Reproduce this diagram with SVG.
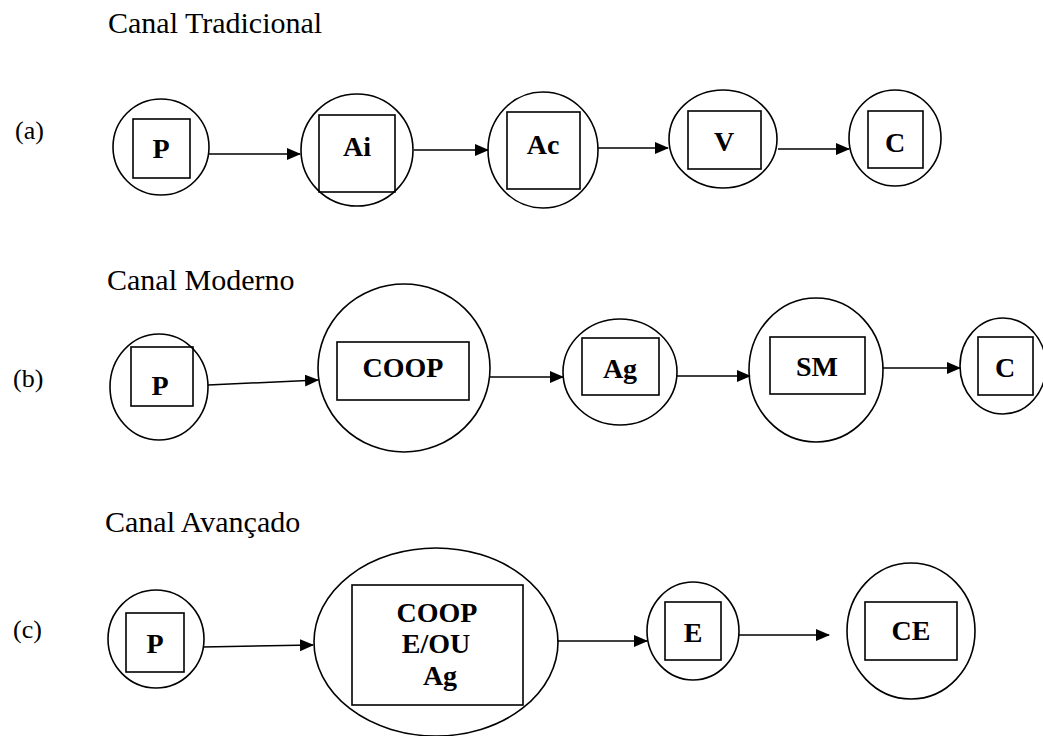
<svg xmlns="http://www.w3.org/2000/svg" width="1043" height="736" viewBox="0 0 1043 736">
<defs>
<marker id="ah" markerWidth="14" markerHeight="12" refX="13" refY="6" orient="auto" markerUnits="userSpaceOnUse"><path d="M0,0 L14,6 L0,12 z" fill="#000"/></marker>
<style>
.n{fill:none;stroke:#000;stroke-width:1.6}
.t{font-family:"Liberation Serif","Times New Roman",serif;font-size:30px;fill:#000}
.l{font-family:"Liberation Serif","Times New Roman",serif;font-size:26px;fill:#000}
.b{font-family:"Liberation Serif","Times New Roman",serif;font-size:28px;font-weight:bold;text-anchor:middle;fill:#000}
.c{fill:none;stroke:#000;stroke-width:1.5;marker-end:url(#ah)}
</style>
</defs>
<rect x="0" y="0" width="1043" height="736" fill="#fff"/>
<g id="titles">
<text class="t" x="108" y="33">Canal Tradicional</text>
<text class="t" x="107" y="290">Canal Moderno</text>
<text class="t" x="105" y="532">Canal Avançado</text>
<text class="l" x="15" y="139">(a)</text>
<text class="l" x="13" y="387">(b)</text>
<text class="l" x="13" y="638">(c)</text>
</g>
<g id="connectors">
<line class="c" x1="208" y1="154" x2="300" y2="154"/>
<line class="c" x1="414" y1="150" x2="488" y2="150"/>
<line class="c" x1="598" y1="148" x2="668" y2="148"/>
<line class="c" x1="778" y1="149" x2="849" y2="149"/>
<line class="c" x1="208" y1="385" x2="318" y2="380"/>
<line class="c" x1="490" y1="377" x2="563" y2="377"/>
<line class="c" x1="677" y1="376" x2="750" y2="376"/>
<line class="c" x1="883" y1="368" x2="960" y2="368"/>
<line class="c" x1="203" y1="647" x2="313" y2="645"/>
<line class="c" x1="557" y1="641" x2="647" y2="641"/>
<line class="c" x1="739" y1="635" x2="829" y2="635"/>
</g>
<g id="a-P"><ellipse class="n" cx="161" cy="147" rx="48" ry="48"/><rect class="n" x="133" y="119" width="57" height="59"/><text class="b" x="161" y="158">P</text></g>
<g id="a-Ai"><ellipse class="n" cx="357" cy="150" rx="56" ry="56"/><rect class="n" x="319" y="115" width="76" height="77"/><text class="b" x="357" y="156">Ai</text></g>
<g id="a-Ac"><ellipse class="n" cx="543" cy="150" rx="55" ry="58"/><rect class="n" x="507" y="112" width="73" height="77"/><text class="b" x="543" y="154">Ac</text></g>
<g id="a-V"><ellipse class="n" cx="723" cy="139" rx="54" ry="49"/><rect class="n" x="688" y="111" width="73" height="58"/><text class="b" x="724" y="151">V</text></g>
<g id="a-C"><ellipse class="n" cx="895" cy="138" rx="46" ry="48"/><rect class="n" x="868" y="111" width="55" height="57"/><text class="b" x="895" y="152">C</text></g>
<g id="b-P"><ellipse class="n" cx="159" cy="387" rx="49" ry="53"/><rect class="n" x="131" y="347" width="62" height="59"/><text class="b" x="160" y="395">P</text></g>
<g id="b-COOP"><ellipse class="n" cx="404" cy="368" rx="86" ry="84"/><rect class="n" x="337" y="342" width="132" height="58"/><text class="b" x="403" y="377">COOP</text></g>
<g id="b-Ag"><ellipse class="n" cx="620" cy="372" rx="57" ry="53"/><rect class="n" x="582" y="338" width="77" height="57"/><text class="b" x="620" y="378">Ag</text></g>
<g id="b-SM"><ellipse class="n" cx="816" cy="370" rx="67" ry="72"/><rect class="n" x="770" y="337" width="95" height="57"/><text class="b" x="817" y="376">SM</text></g>
<g id="b-C"><ellipse class="n" cx="1003" cy="366" rx="43" ry="48"/><rect class="n" x="978" y="337" width="55" height="58"/><text class="b" x="1005" y="377">C</text></g>
<g id="c-P"><ellipse class="n" cx="156" cy="639" rx="48" ry="49"/><rect class="n" x="126" y="613" width="58" height="59"/><text class="b" x="155" y="653">P</text></g>
<g id="c-COOP"><ellipse class="n" cx="436" cy="642" rx="122" ry="94"/><rect class="n" x="352" y="585" width="171" height="120"/><text class="b" x="437" y="622">COOP</text><text class="b" x="436" y="653">E/OU</text><text class="b" x="440" y="685">Ag</text></g>
<g id="c-E"><ellipse class="n" cx="693" cy="631" rx="46" ry="49"/><rect class="n" x="665" y="602" width="56" height="58"/><text class="b" x="693" y="642">E</text></g>
<g id="c-CE"><ellipse class="n" cx="911" cy="631" rx="64" ry="68"/><rect class="n" x="865" y="602" width="92" height="58"/><text class="b" x="911" y="640">CE</text></g>
</svg>
